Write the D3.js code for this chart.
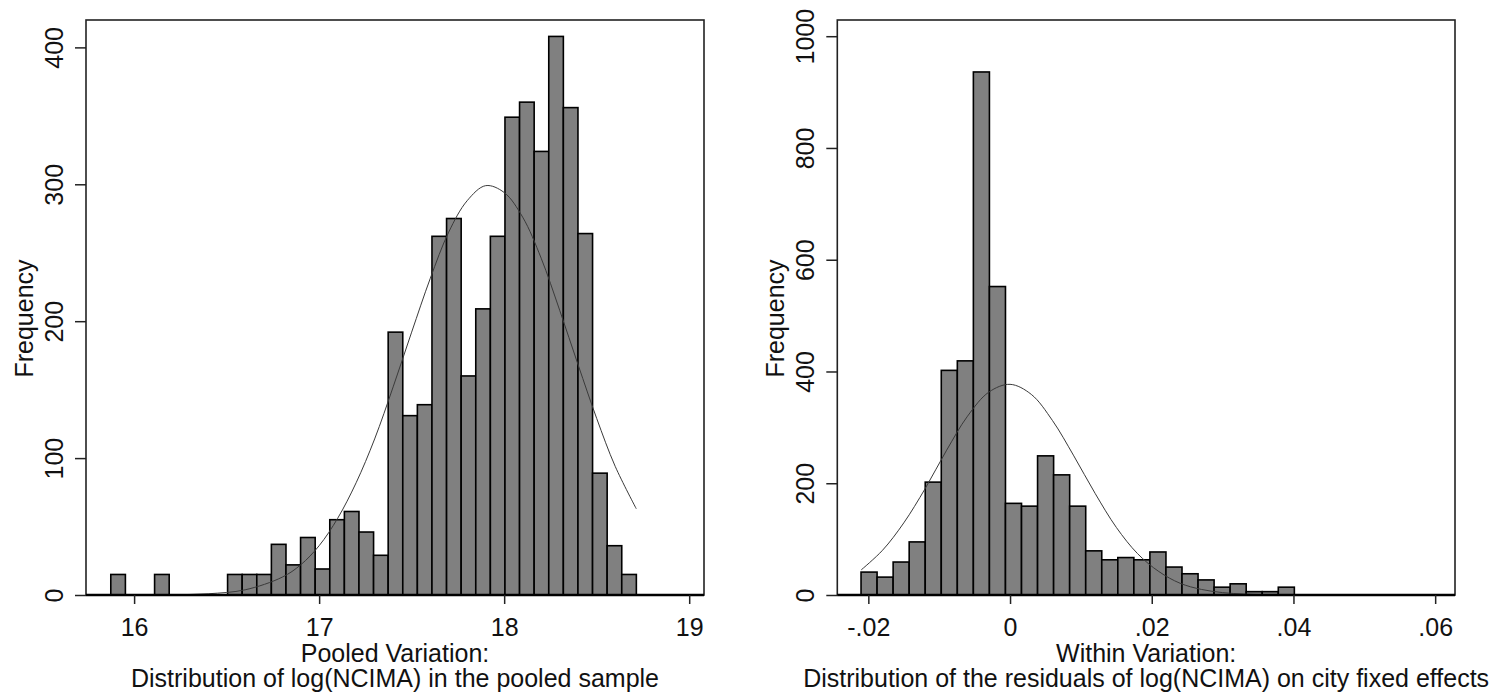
<!DOCTYPE html>
<html>
<head>
<meta charset="utf-8">
<script src="https://cdn.jsdelivr.net/npm/d3@7/dist/d3.min.js"></script>
<style>
  html, body { margin: 0; padding: 0; background: #fff; }
  svg { display: block; }
  text { font-family: "Liberation Sans", Arial, sans-serif; fill: #111; }
</style>
</head>
<body>
<svg id="chart" width="1504" height="697"></svg>
<script>
// ---- Pooled sample: histogram of log(NCIMA) ----
const pooledBinStart = 15.874;
const pooledBinWidth = 0.0789;
const pooledCounts = [15, 0, 0, 15, 0, 0, 0, 0, 15, 15, 15, 37, 22, 42, 19, 55, 61, 46, 29,
  192, 131, 139, 262, 275, 160, 209, 262, 349, 360, 324, 408, 356, 264, 89, 36, 15];
const pooledCurveX = [15.874, 16.0, 16.2, 16.4, 16.6, 16.8, 16.9, 17.0, 17.1, 17.2, 17.3, 17.4,
  17.5, 17.6, 17.7, 17.8, 17.9, 18.0, 18.1, 18.2, 18.3, 18.4, 18.5, 18.6, 18.714];
const pooledCurveY = [0, 0, 0.2, 0.9, 3.8, 13, 22, 36, 56, 82, 114, 152,
  192, 231, 265, 288, 299, 294, 276, 246, 208, 168, 129, 94, 63];
const pooledXTicks = [16, 17, 18, 19];
const pooledXLabels = ["16", "17", "18", "19"];
const pooledYTicks = [0, 100, 200, 300, 400];

// ---- Within variation: residuals on city fixed effects ----
const withinBinStart = -0.02103;
const withinBinWidth = 0.002265;
const withinCounts = [41, 32, 59, 95, 202, 402, 419, 936, 552, 164, 159, 249, 215, 159, 79,
  63, 67, 63, 77, 50, 38, 27, 14, 20, 6, 6, 14];
const withinCurveX = [-0.021, -0.018, -0.015, -0.012, -0.009, -0.006, -0.003, 0.0, 0.003, 0.006,
  0.009, 0.012, 0.015, 0.018, 0.021, 0.024, 0.027, 0.030, 0.033, 0.036, 0.0399];
const withinCurveY = [45, 80, 129, 190, 258, 320, 363, 377, 359, 312,
  249, 182, 121, 74, 42, 21, 10, 4.3, 1.7, 0.6, 0.15];
const withinXTicks = [-0.02, 0, 0.02, 0.04, 0.06];
const withinXLabels = ["-.02", "0", ".02", ".04", ".06"];
const withinYTicks = [0, 200, 400, 600, 800, 1000];

const svg = d3.select("#chart");
const FONT = 25;

function drawPanel(cfg) {
  const x = d3.scaleLinear().domain(cfg.xDomain).range([cfg.left, cfg.right]);
  const y = d3.scaleLinear().domain(cfg.yDomain).range([cfg.bottom, cfg.top]);
  const g = svg.append("g");

  // bars
  const bins = cfg.counts.map((c, i) => ({
    x0: cfg.binStart + i * cfg.binWidth,
    x1: cfg.binStart + (i + 1) * cfg.binWidth,
    c: c
  })).filter(d => d.c > 0);
  g.append("g").selectAll("rect").data(bins).join("rect")
    .attr("x", d => x(d.x0))
    .attr("width", d => x(d.x1) - x(d.x0))
    .attr("y", d => y(d.c))
    .attr("height", d => y(0) - y(d.c))
    .attr("fill", "#808080")
    .attr("stroke", "#000")
    .attr("stroke-width", 1.6);

  // normal density overlay
  const pts = cfg.curveX.map((v, i) => [v, cfg.curveY[i]]);
  g.append("path")
    .datum(pts)
    .attr("fill", "none")
    .attr("stroke", "#3a3a3a")
    .attr("stroke-width", 1)
    .attr("d", d3.line().x(d => x(d[0])).y(d => y(d[1])).curve(d3.curveCatmullRom));

  // frame
  g.append("rect")
    .attr("x", cfg.left).attr("y", cfg.top)
    .attr("width", cfg.right - cfg.left).attr("height", cfg.bottom - cfg.top)
    .attr("fill", "none").attr("stroke", "#222").attr("stroke-width", 1.6);
  g.append("line")
    .attr("x1", cfg.left).attr("x2", cfg.right)
    .attr("y1", cfg.bottom).attr("y2", cfg.bottom)
    .attr("stroke", "#000").attr("stroke-width", 2.4);

  // y axis with vertical tick labels
  const ya = g.append("g").attr("transform", `translate(${cfg.left},0)`)
    .call(d3.axisLeft(y).tickValues(cfg.yTicks).tickSize(11).tickFormat(d3.format("d")));
  ya.select(".domain").remove();
  ya.selectAll(".tick line").attr("stroke", "#222").attr("stroke-width", 1.5);
  ya.selectAll(".tick text")
    .attr("x", 0).attr("y", -23.5).attr("dy", 0)
    .attr("text-anchor", "middle")
    .attr("transform", "rotate(-90)")
    .style("font-size", FONT + "px")
    .style("font-family", "'Liberation Sans', Arial, sans-serif")
    .attr("fill", "#111");

  // x axis
  const xa = g.append("g").attr("transform", `translate(0,${cfg.bottom})`)
    .call(d3.axisBottom(x).tickValues(cfg.xTicks).tickSize(9)
      .tickFormat((d, i) => cfg.xLabels[i]));
  xa.select(".domain").remove();
  xa.selectAll(".tick line").attr("stroke", "#222").attr("stroke-width", 1.5);
  xa.selectAll(".tick text")
    .attr("y", 41).attr("dy", 0)
    .style("font-size", FONT + "px")
    .style("font-family", "'Liberation Sans', Arial, sans-serif")
    .attr("fill", "#111");

  // axis titles
  g.append("text")
    .attr("transform", `translate(${cfg.left - 53},${(cfg.top + cfg.bottom) / 2 + 11}) rotate(-90)`)
    .attr("text-anchor", "middle")
    .style("font-size", FONT + "px")
    .text("Frequency");
  const cx = (cfg.left + cfg.right) / 2;
  g.append("text").attr("x", cx).attr("y", 662).attr("text-anchor", "middle")
    .style("font-size", FONT + "px").text(cfg.title1);
  g.append("text").attr("x", cx).attr("y", 687).attr("text-anchor", "middle")
    .style("font-size", FONT + "px").text(cfg.title2);
}

drawPanel({
  left: 86, right: 704, top: 20, bottom: 595,
  xDomain: [15.74, 19.08], yDomain: [0, 420],
  binStart: pooledBinStart, binWidth: pooledBinWidth, counts: pooledCounts,
  curveX: pooledCurveX, curveY: pooledCurveY,
  xTicks: pooledXTicks, xLabels: pooledXLabels, yTicks: pooledYTicks,
  title1: "Pooled Variation:",
  title2: "Distribution of log(NCIMA) in the pooled sample"
});

drawPanel({
  left: 837.3, right: 1455, top: 20, bottom: 595,
  xDomain: [-0.02438, 0.0628], yDomain: [0, 1029],
  binStart: withinBinStart, binWidth: withinBinWidth, counts: withinCounts,
  curveX: withinCurveX, curveY: withinCurveY,
  xTicks: withinXTicks, xLabels: withinXLabels, yTicks: withinYTicks,
  title1: "Within Variation:",
  title2: "Distribution of the residuals of log(NCIMA) on city fixed effects"
});
</script>
</body>
</html>
